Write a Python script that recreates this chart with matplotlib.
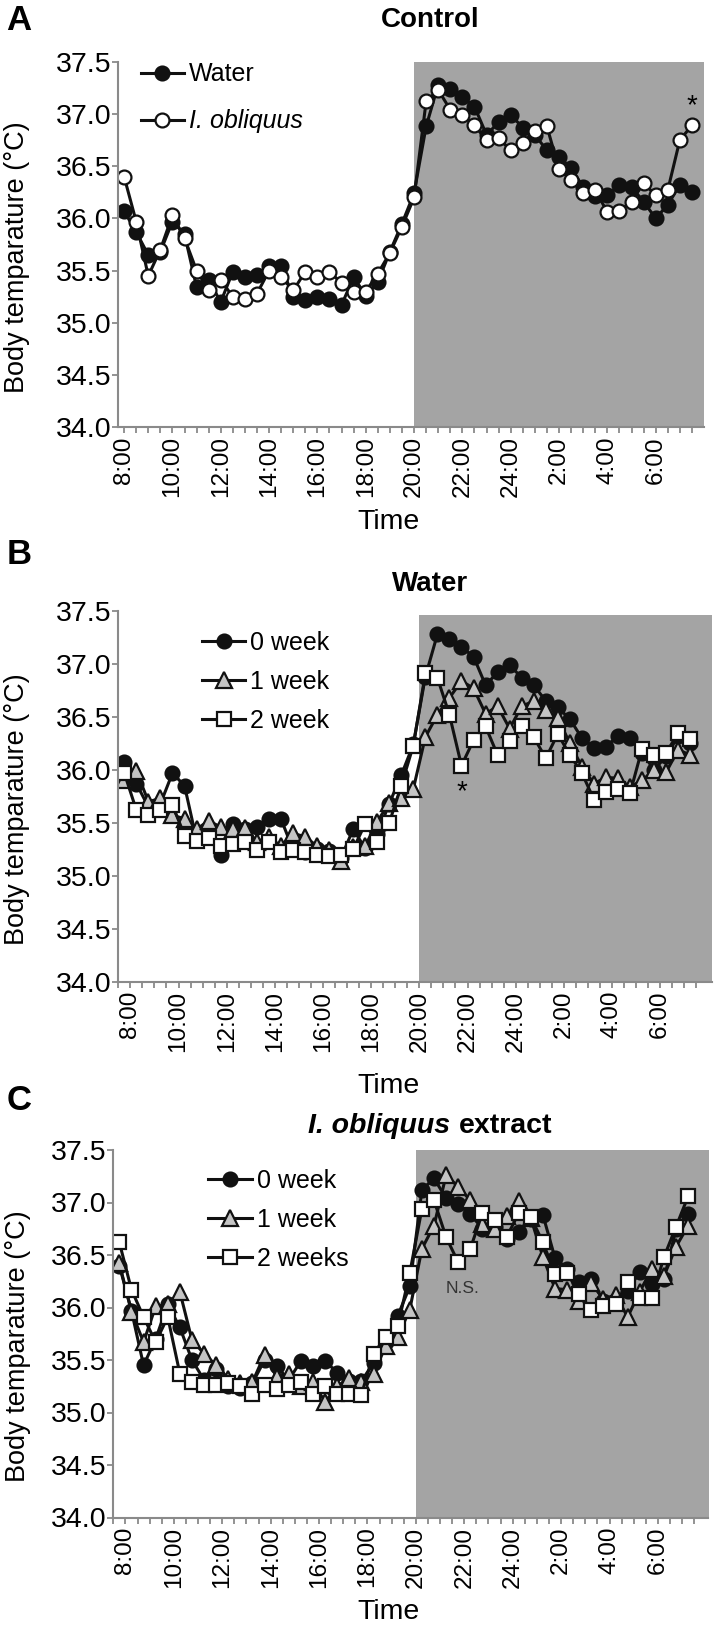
import numpy as np
import matplotlib
matplotlib.use("Agg")
import matplotlib.pyplot as plt
from matplotlib.offsetbox import TextArea, HPacker, AnchoredOffsetbox

# =======================
# DATA (body temperature, degC, every 30 min)
# =======================
# panel A: points start at 8:00, panels B and C start at 7:45
times_a = np.arange(8.0, 32.0, 0.5)
times_bc = np.arange(7.75, 31.75, 0.5)

water_ctrl = [36.07, 35.87, 35.65, 35.68, 35.97, 35.85, 35.34, 35.41, 35.20, 35.49,
              35.44, 35.46, 35.54, 35.54, 35.25, 35.22, 35.25, 35.23, 35.17, 35.44,
              35.26, 35.39, 35.68, 35.95, 36.24, 36.88, 37.28, 37.24, 37.16, 37.07,
              36.80, 36.92, 36.99, 36.87, 36.80, 36.65, 36.59, 36.48, 36.30, 36.21,
              36.22, 36.32, 36.30, 36.16, 36.00, 36.13, 36.32, 36.25]
obliquus_ctrl = [36.40, 35.97, 35.45, 35.70, 36.03, 35.81, 35.50, 35.31, 35.41, 35.25,
                 35.23, 35.28, 35.50, 35.44, 35.31, 35.49, 35.44, 35.49, 35.38, 35.30,
                 35.30, 35.47, 35.67, 35.92, 36.20, 37.12, 37.23, 37.04, 36.99, 36.89,
                 36.75, 36.77, 36.65, 36.72, 36.84, 36.88, 36.47, 36.37, 36.24, 36.27,
                 36.06, 36.07, 36.16, 36.34, 36.22, 36.27, 36.75, 36.89]

# water group over 0 / 1 / 2 weeks
water_w0 = water_ctrl
water_w1 = [35.90, 35.99, 35.70, 35.73, 35.57, 35.54, 35.44, 35.52, 35.46, 35.44,
            35.45, 35.32, 35.37, 35.28, 35.40, 35.37, 35.28, 35.24, 35.14, 35.27,
            35.28, 35.51, 35.69, 35.73, 35.82, 36.31, 36.52, 36.68, 36.84, 36.77,
            36.53, 36.60, 36.39, 36.60, 36.65, 36.57, 36.49, 36.25, 36.03, 35.87,
            35.93, 35.92, 35.84, 35.90, 36.00, 35.98, 36.19, 36.14]
water_w2 = [35.97, 35.62, 35.57, 35.62, 35.67, 35.38, 35.33, 35.36, 35.28, 35.30,
            35.32, 35.24, 35.32, 35.22, 35.24, 35.22, 35.20, 35.19, 35.20, 35.25,
            35.49, 35.32, 35.50, 35.85, 36.23, 36.91, 36.87, 36.52, 36.04, 36.28,
            36.41, 36.14, 36.27, 36.41, 36.31, 36.11, 36.34, 36.14, 35.97, 35.72,
            35.79, 35.82, 35.78, 36.20, 36.14, 36.16, 36.35, 36.29]

# I. obliquus group over 0 / 1 / 2 weeks
obl_w0 = obliquus_ctrl
obl_w1 = [36.42, 35.96, 35.67, 36.01, 36.03, 36.15, 35.69, 35.56, 35.45, 35.32,
          35.28, 35.29, 35.55, 35.34, 35.37, 35.25, 35.29, 35.10, 35.25, 35.33,
          35.29, 35.37, 35.63, 35.72, 35.98, 36.56, 36.78, 37.26, 37.15, 37.02,
          36.80, 36.75, 36.87, 37.01, 36.85, 36.48, 36.18, 36.17, 36.06, 36.23,
          36.08, 36.12, 35.91, 36.15, 36.37, 36.30, 36.58, 36.78]
obl_w2 = [36.62, 36.17, 35.91, 35.67, 35.91, 35.37, 35.29, 35.26, 35.26, 35.28,
          35.25, 35.18, 35.26, 35.22, 35.26, 35.29, 35.18, 35.25, 35.18, 35.18,
          35.17, 35.56, 35.72, 35.82, 36.33, 36.94, 37.02, 36.67, 36.43, 36.56,
          36.90, 36.83, 36.67, 36.90, 36.86, 36.62, 36.32, 36.33, 36.13, 35.98,
          36.01, 36.03, 36.24, 36.09, 36.09, 36.48, 36.77, 37.06]

hour_ticks = [8, 10, 12, 14, 16, 18, 20, 22, 24, 26, 28, 30]
hour_labels = ["8:00", "10:00", "12:00", "14:00", "16:00", "18:00", "20:00",
               "22:00", "24:00", "2:00", "4:00", "6:00"]

# =======================
# STYLE
# =======================
W, H = 716, 1625
INK = "#111111"
AXIS_GRAY = "#8a8a8a"
NIGHT = "#a4a4a4"

plt.rcParams["font.family"] = ["Liberation Sans", "DejaVu Sans"]

LINE = dict(color=INK, lw=2.2, mew=1.6, mec=INK)
FILLED = dict(marker="o", ms=10, mfc=INK, **LINE)
OPEN = dict(marker="o", ms=10, mfc="white", **LINE)
TRI = dict(marker="^", ms=11.5, mfc="#c4c4c4", **LINE)
SQR = dict(marker="s", ms=10, mfc="white", **LINE)

fig = plt.figure(figsize=(W / 100, H / 100), dpi=100)


def add_axes_px(left, top, right, bottom):
    return fig.add_axes([left / W, 1 - bottom / H, (right - left) / W, (bottom - top) / H])


def setup(ax, xlim, first_tick, night_top=37.5):
    ax.set_xlim(*xlim)
    ax.set_ylim(34.0, 37.5)
    ax.axvspan(20, xlim[1] + 1, ymax=(night_top - 34.0) / 3.5, color=NIGHT, lw=0, zorder=0)

    ticks = np.arange(first_tick, 31.51, 0.5)
    labels = [hour_labels[hour_ticks.index(t)] if t in hour_ticks else "" for t in ticks]
    ax.set_xticks(ticks, labels, rotation=90, fontsize=17.5)

    yt = np.arange(34.0, 37.51, 0.5)
    ax.set_yticks(yt, [f"{v:.1f}" for v in yt], fontsize=20.5)
    ax.tick_params(direction="out", length=4.5, width=1.3, color=AXIS_GRAY)
    ax.tick_params(axis="x", pad=2)
    ax.tick_params(axis="y", pad=0.5)

    for s in ["top", "right"]:
        ax.spines[s].set_visible(False)
    for s in ["left", "bottom"]:
        ax.spines[s].set_color(AXIS_GRAY)
        ax.spines[s].set_linewidth(1.5)

    ax.set_ylabel("Body temparature (°C)", fontsize=19.5)


def legend(ax, x, y, spacing):
    return ax.legend(loc="upper left", bbox_to_anchor=(x, y), frameon=False,
                     fontsize=18, handlelength=1.75, handletextpad=0.2,
                     labelspacing=spacing, borderpad=0, borderaxespad=0)


# =======================
# PANEL A - Control
# =======================
axA = add_axes_px(118.3, 61.7, 704, 427.3)
setup(axA, (7.76, 32.0), 8.0)
axA.plot(times_a, water_ctrl, label="Water", **FILLED)
axA.plot(times_a, obliquus_ctrl, label="I. obliquus", **OPEN)
legA = legend(axA, 0.038, 0.9984, 0.92)
legA.get_texts()[1].set_style("italic")
axA.annotate("*", xy=(times_a[-1], obliquus_ctrl[-1]), xytext=(0, 14),
             textcoords="offset points", ha="center", va="center", fontsize=20)
axA.yaxis.set_label_coords(-0.15, 0.465)

# =======================
# PANEL B - Water
# =======================
axB = add_axes_px(118.3, 611, 711.7, 981.7)
setup(axB, (7.5, 32.14), 7.5, night_top=37.46)
axB.plot(times_bc, water_w0, label="0 week", **FILLED)
axB.plot(times_bc, water_w1, label="1 week", **TRI)
axB.plot(times_bc, water_w2, label="2 week", **SQR)
legend(axB, 0.1405, 0.9455, 0.59)
axB.annotate("*", xy=(times_bc[28], water_w2[28]), xytext=(0, -19),
             textcoords="offset points", ha="center", va="center", fontsize=20)
axB.yaxis.set_label_coords(-0.148, 0.465)

# =======================
# PANEL C - I. obliquus extract
# =======================
axC = add_axes_px(113.3, 1150, 708.5, 1517.5)
setup(axC, (7.5, 32.09), 7.5)
axC.plot(times_bc, obl_w0, label="0 week", **FILLED)
axC.plot(times_bc, obl_w1, label="1 week", **TRI)
axC.plot(times_bc, obl_w2, label="2 weeks", **SQR)
legend(axC, 0.159, 0.948, 0.60)
axC.annotate("N.S.", xy=(times_bc[28], obl_w2[28]), xytext=(3, -19),
             textcoords="offset points", ha="center", va="center", fontsize=12.5,
             color="#333333")
axC.yaxis.set_label_coords(-0.139, 0.465)

# =======================
# TITLES, LETTERS, X LABELS
# =======================
for letter, y in [("A", 20), ("B", 554), ("C", 1101)]:
    fig.text(19 / W, 1 - y / H, letter, fontsize=25, fontweight="bold",
             ha="center", va="center")

fig.text(430 / W, 1 - 20 / H, "Control", fontsize=20, fontweight="bold",
         ha="center", va="center")
fig.text(430 / W, 1 - 584 / H, "Water", fontsize=20, fontweight="bold",
         ha="center", va="center")
title_c = HPacker(children=[
    TextArea("I. obliquus", textprops=dict(fontsize=20.5, fontweight="bold", fontstyle="italic")),
    TextArea("extract", textprops=dict(fontsize=20.5, fontweight="bold")),
], align="baseline", pad=0, sep=6)
fig.add_artist(AnchoredOffsetbox(loc="center", child=title_c, pad=0, borderpad=0,
                                 frameon=False, bbox_to_anchor=(430 / W, 1 - 1126 / H),
                                 bbox_transform=fig.transFigure))

for y in [522, 1086, 1612]:
    fig.text(388 / W, 1 - y / H, "Time", fontsize=20.5, ha="center", va="center")

fig.savefig("out.png", dpi=100)
